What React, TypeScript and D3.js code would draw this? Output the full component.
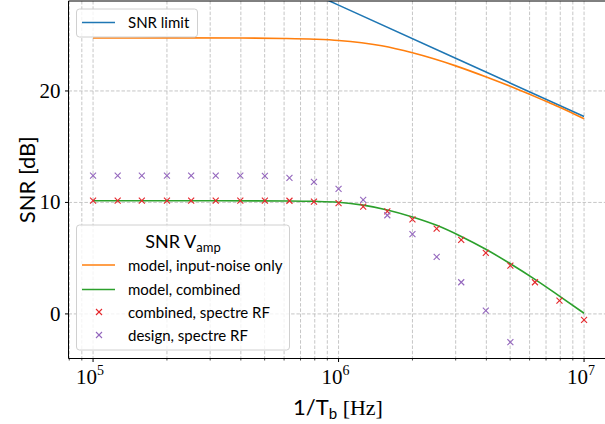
import * as d3 from "d3";

// measurement / simulation frequencies (1/Tb), 10 points per decade
const simFreq = [
  1e5, 1.26e5, 1.58e5, 2e5, 2.51e5, 3.16e5, 3.98e5, 5.01e5, 6.31e5, 7.94e5,
  1e6, 1.26e6, 1.58e6, 2e6, 2.51e6, 3.16e6, 3.98e6, 5.01e6, 6.31e6, 7.94e6, 1e7,
];
const combinedRF = [
  10.16, 10.16, 10.17, 10.17, 10.16, 10.16, 10.16, 10.16, 10.15, 10.07,
  9.93, 9.62, 9.2, 8.49, 7.65, 6.64, 5.47, 4.33, 2.84, 1.2, -0.54,
];
const designRF = [
  12.4, 12.4, 12.4, 12.4, 12.4, 12.4, 12.4, 12.38, 12.2, 11.84,
  11.21, 10.22, 8.85, 7.15, 5.11, 2.84, 0.3, -2.54,
];

// model curves
const limitFreq = [1e5, 1e6, 1e7];
const limitSNR = [37.7, 27.7, 17.7];

const inputFreq = [1e5, 2e5, 4e5, 6e5, 8e5, 1e6, 1.5e6, 2e6, 3e6, 4e6, 5e6, 6e6, 7e6, 8e6, 1e7];
const inputSNR = [24.75, 24.76, 24.75, 24.71, 24.64, 24.53, 24.05, 23.42, 22.25, 21.25, 20.42, 19.7, 19.07, 18.52, 17.5];

const combFreq = [1e5, 3.16e5, 6.31e5, 7.94e5, 1e6, 1.26e6, 1.58e6, 2e6, 2.51e6, 3.16e6, 3.98e6, 5.01e6, 6.31e6, 7.94e6, 1e7];
const combSNR = [10.15, 10.15, 10.13, 10.1, 10.02, 9.76, 9.33, 8.7, 7.95, 6.95, 5.8, 4.5, 3.1, 1.6, 0.06];

const yTicks = [0, 10, 20];
const xMajor = [1e5, 1e6, 1e7];
const xExp = ["5", "6", "7"];

const W = 605;
const H = 424;
const left = 68.5;
const top = 1;
const bottom = 358.5;

const sans = "Lato, 'Open Sans', sans-serif";
const serif = "'Liberation Serif', 'DejaVu Serif', serif";

const C = {
  blue: "#1f77b4",
  orange: "#ff7f0e",
  green: "#2ca02c",
  red: "#e5262b",
  purple: "#9467bd",
};

export default function App() {
  const x = d3.scaleLog().domain([Math.pow(10, 4.9), Math.pow(10, 7.1)]).range([left, 608.6]);
  const y = d3.scaleLinear().domain([-4.0, 28.07]).range([bottom, top]);

  const minors: number[] = [];
  [1e4, 1e5, 1e6].forEach((d) => {
    for (let m = 2; m <= 9; m++) {
      const v = d * m;
      if (v > x.domain()[0] && v < x.domain()[1]) minors.push(v);
    }
  });

  const line = d3
    .line<[number, number]>()
    .x((d) => x(d[0]))
    .y((d) => y(d[1]))
    .curve(d3.curveMonotoneX);

  const zip = (a: number[], b: number[]) => a.map((v, i) => [v, b[i]] as [number, number]);

  const cross = (cx: number, cy: number, color: string, key: string) => (
    <g key={key} stroke={color} strokeWidth={1.1}>
      <line x1={cx - 3} y1={cy - 3} x2={cx + 3} y2={cy + 3} />
      <line x1={cx - 3} y1={cy + 3} x2={cx + 3} y2={cy - 3} />
    </g>
  );

  return (
    <svg width={W} height={H} style={{ position: "absolute", left: 0, top: 0, background: "#fff" }}>
      <defs>
        <clipPath id="plot">
          <rect x={left} y={top} width={W - left} height={bottom - top} />
        </clipPath>
      </defs>

      {/* grid */}
      <g stroke="#b8b8b8" strokeWidth={0.8} strokeDasharray="3.5,1.8">
        {[...xMajor, ...minors].map((v, i) => (
          <line key={"gx" + i} x1={x(v)} x2={x(v)} y1={top} y2={bottom} />
        ))}
        {yTicks.map((v) => (
          <line key={"gy" + v} x1={left} x2={W} y1={y(v)} y2={y(v)} />
        ))}
      </g>

      {/* curves */}
      <g clipPath="url(#plot)" fill="none" strokeWidth={1.6}>
        <path d={line(zip(limitFreq, limitSNR)) ?? ""} stroke={C.blue} />
        <path d={line(zip(inputFreq, inputSNR)) ?? ""} stroke={C.orange} />
        <path d={line(zip(combFreq, combSNR)) ?? ""} stroke={C.green} />
        {combinedRF.map((v, i) => cross(x(simFreq[i]), y(v), C.red, "r" + i))}
        {designRF.map((v, i) => cross(x(simFreq[i]), y(v), C.purple, "p" + i))}
      </g>

      {/* axes */}
      <g stroke="#000" strokeWidth={1}>
        <line x1={left} x2={left} y1={top} y2={bottom} />
        <line x1={left} x2={W} y1={bottom} y2={bottom} />
        <line x1={left} x2={W} y1={top} y2={top} />
        {xMajor.map((v) => (
          <line key={"tx" + v} x1={x(v)} x2={x(v)} y1={bottom} y2={bottom + 3.5} />
        ))}
        {minors.map((v, i) => (
          <line key={"mx" + i} x1={x(v)} x2={x(v)} y1={bottom} y2={bottom + 2} strokeWidth={0.7} />
        ))}
        {yTicks.map((v) => (
          <line key={"ty" + v} x1={left - 3.5} x2={left} y1={y(v)} y2={y(v)} />
        ))}
      </g>

      {/* tick labels */}
      <g fontFamily={serif} fill="#000">
        {yTicks.map((v) => (
          <text key={"ly" + v} x={left - 8} y={y(v) + 7} fontSize={21} textAnchor="end">
            {v}
          </text>
        ))}
        {xMajor.map((v, i) => (
          <text key={"lx" + v} x={x(v) - 17} y={384} fontSize={21}>
            10
            <tspan fontSize={14} dy={-9}>
              {xExp[i]}
            </tspan>
          </text>
        ))}
      </g>

      {/* axis labels */}
      <text x={338} y={415} textAnchor="middle" fontSize={22} fontFamily={sans}>
        1/T
        <tspan fontSize={15} dy={4}>b</tspan>
        <tspan dy={-4} fontFamily={serif}> [Hz]</tspan>
      </text>
      <text
        transform={`translate(35,${(top + bottom) / 2}) rotate(-90)`}
        textAnchor="middle"
        fontSize={22}
        fontFamily={sans}
      >
        SNR [dB]
      </text>

      {/* legend 1 */}
      <g fontFamily={sans} fontSize={15}>
        <rect x={76.5} y={9} width={121} height={28} rx={3} fill="#fff" fillOpacity={0.8} stroke="#d0d0d0" />
        <line x1={82} x2={115} y1={22.5} y2={22.5} stroke={C.blue} strokeWidth={1.6} />
        <text x={128} y={28}>SNR limit</text>
      </g>

      {/* legend 2 */}
      <g fontFamily={sans} fontSize={15}>
        <rect x={76.5} y={225} width={213} height={125} rx={3} fill="#fff" fillOpacity={0.8} stroke="#d0d0d0" />
        <text x={183} y={248} textAnchor="middle" fontSize={18}>
          SNR V<tspan fontSize={13} dy={4}>amp</tspan>
        </text>
        <line x1={82} x2={115} y1={265} y2={265} stroke={C.orange} strokeWidth={1.6} />
        <text x={128} y={271}>model, input-noise only</text>
        <line x1={82} x2={115} y1={289.5} y2={289.5} stroke={C.green} strokeWidth={1.6} />
        <text x={128} y={295}>model, combined</text>
        {cross(99, 312, C.red, "lr")}
        <text x={128} y={318}>combined, spectre RF</text>
        {cross(99, 335, C.purple, "lp")}
        <text x={128} y={341}>design, spectre RF</text>
      </g>
    </svg>
  );
}
